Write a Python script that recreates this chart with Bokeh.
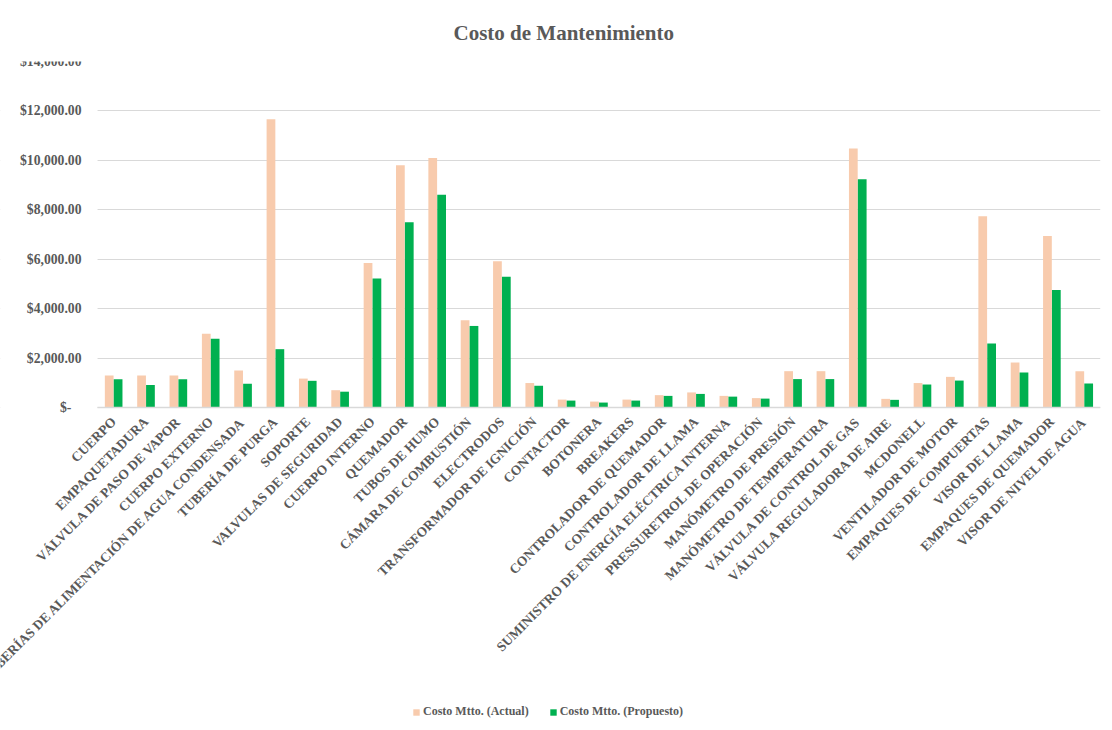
import math
from bokeh.plotting import figure
from bokeh.models import (FactorRange, Range1d, Legend, LegendItem, CustomJSTickFormatter,
                          ColumnDataSource, FixedTicker, BoxAnnotation)
from bokeh.transform import dodge
from bokeh.embed import file_html
from bokeh.resources import INLINE

categories = [
    "CUERPO", "EMPAQUETADURA", "VÁLVULA DE PASO DE VAPOR", "CUERPO EXTERNO",
    "TUBERÍAS DE ALIMENTACIÓN DE AGUA CONDENSADA", "TUBERÍA DE PURGA", "SOPORTE",
    "VALVULAS DE SEGURIDAD", "CUERPO INTERNO", "QUEMADOR", "TUBOS DE HUMO",
    "CÁMARA DE COMBUSTIÓN", "ELECTRODOS", "TRANSFORMADOR DE IGNICIÓN", "CONTACTOR",
    "BOTONERA", "BREAKERS", "CONTROLADOR DE QUEMADOR", "CONTROLADOR DE LLAMA",
    "SUMINISTRO DE ENERGÍA ELÉCTRICA INTERNA", "PRESSURETROL DE OPERACIÓN",
    "MANÓMETRO DE PRESIÓN", "MANÓMETRO DE TEMPERATURA", "VÁLVULA DE CONTROL DE GAS",
    "VÁLVULA REGULADORA DE AIRE", "MCDONELL", "VENTILADOR DE MOTOR",
    "EMPAQUES DE COMPUERTAS", "VISOR DE LLAMA", "EMPAQUES DE QUEMADOR",
    "VISOR DE NIVEL DE AGUA",
]
costo_actual = [1300, 1300, 1300, 2980, 1500, 11660, 1170, 700, 5850, 9800, 10100,
                3530, 5920, 990, 320, 240, 320, 500, 610, 470, 380, 1470, 1470,
                10480, 350, 990, 1240, 7740, 1820, 6940, 1470]
costo_propuesto = [1140, 910, 1140, 2780, 960, 2360, 1080, 640, 5220, 7500, 8610,
                   3300, 5290, 880, 280, 200, 280, 470, 550, 440, 360, 1150, 1150,
                   9240, 310, 930, 1090, 2590, 1420, 4750, 970]
y_ticks = [0, 2000, 4000, 6000, 8000, 10000, 12000, 14000]

FONT = "Liberation Serif"
GREY = "#595959"
PEACH = "#F8CBAD"
GREEN = "#00B050"

# three empty slots on the left hold the value-axis labels inside the frame
pad_factors = [" ", "  ", "   "]
N_PAD = len(pad_factors)

src = ColumnDataSource(dict(cat=categories, actual=costo_actual, prop=costo_propuesto))

Y_TOP = 14000
Y_BOTTOM = -12988

p = figure(frame_width=1100, frame_height=667,
           x_range=FactorRange(*(pad_factors + categories), range_padding=0),
           y_range=Range1d(Y_BOTTOM, Y_TOP), output_backend="svg", toolbar_location=None,
           min_border_left=0, min_border_right=12, min_border_top=61, min_border_bottom=2)
p.outline_line_color = None
p.background_fill_color = "white"
p.border_fill_color = "white"

r1 = p.vbar(x=dodge("cat", -0.14, range=p.x_range), top="actual", bottom=0, width=0.27,
            source=src, fill_color=PEACH, line_color=None)
r2 = p.vbar(x=dodge("cat", 0.135, range=p.x_range), top="prop", bottom=0, width=0.27,
            source=src, fill_color=GREEN, line_color=None)

p.title.text = "Costo de Mantenimiento"
p.title.align = "left"
p.title.offset = 453
p.title.standoff = 34
p.title.text_font = FONT
p.title.text_font_size = "21px"
p.title.text_font_style = "bold"
p.title.text_color = GREY

p.xgrid.grid_line_color = None
p.ygrid.grid_line_color = "#D9D9D9"
p.ygrid.grid_line_width = 1
# hide the grid lines under the value labels
p.add_layout(BoxAnnotation(right=N_PAD, fill_color="white", fill_alpha=1.0,
                           line_alpha=0, level="underlay"))

p.yaxis.fixed_location = N_PAD
p.yaxis.ticker = FixedTicker(ticks=y_ticks)
p.yaxis.formatter = CustomJSTickFormatter(code="""
if (tick == 0) { return "$-\u00a0\u00a0\u00a0"; }
return "$" + tick.toLocaleString('en-US', {minimumFractionDigits: 2, maximumFractionDigits: 2});
""")
p.yaxis.axis_line_color = None
p.yaxis.major_tick_line_color = None
p.yaxis.minor_tick_line_color = None
p.yaxis.major_label_standoff = 10
p.yaxis.major_label_text_font = FONT
p.yaxis.major_label_text_font_size = "13.7px"
p.yaxis.major_label_text_font_style = "bold"
p.yaxis.major_label_text_color = GREY

p.xaxis.fixed_location = 0
p.xaxis.bounds = (N_PAD, N_PAD + len(categories))
p.xaxis.axis_line_color = "#D9D9D9"
p.xaxis.axis_line_width = 1.5
p.xaxis.major_tick_line_color = None
p.xaxis.minor_tick_line_color = None
p.xaxis.major_label_orientation = math.pi / 4
p.xaxis.major_label_standoff = 6
p.xaxis.major_label_text_font = FONT
p.xaxis.major_label_text_font_size = "13.5px"
p.xaxis.major_label_text_font_style = "bold"
p.xaxis.major_label_text_color = GREY

legend = Legend(items=[LegendItem(label="Costo Mtto. (Actual)", renderers=[r1]),
                       LegendItem(label="Costo Mtto. (Propuesto)", renderers=[r2])],
                orientation="horizontal", location=(412, 9))
legend.label_text_font = FONT
legend.label_text_font_size = "12px"
legend.label_text_font_style = "bold"
legend.label_text_color = GREY
legend.glyph_width = 8
legend.glyph_height = 8
legend.label_standoff = 3
legend.spacing = 20
legend.border_line_color = None
legend.background_fill_alpha = 0
legend.margin = 0
legend.padding = 0
p.add_layout(legend, "center")

open("out.html", "w").write(file_html(p, INLINE))
